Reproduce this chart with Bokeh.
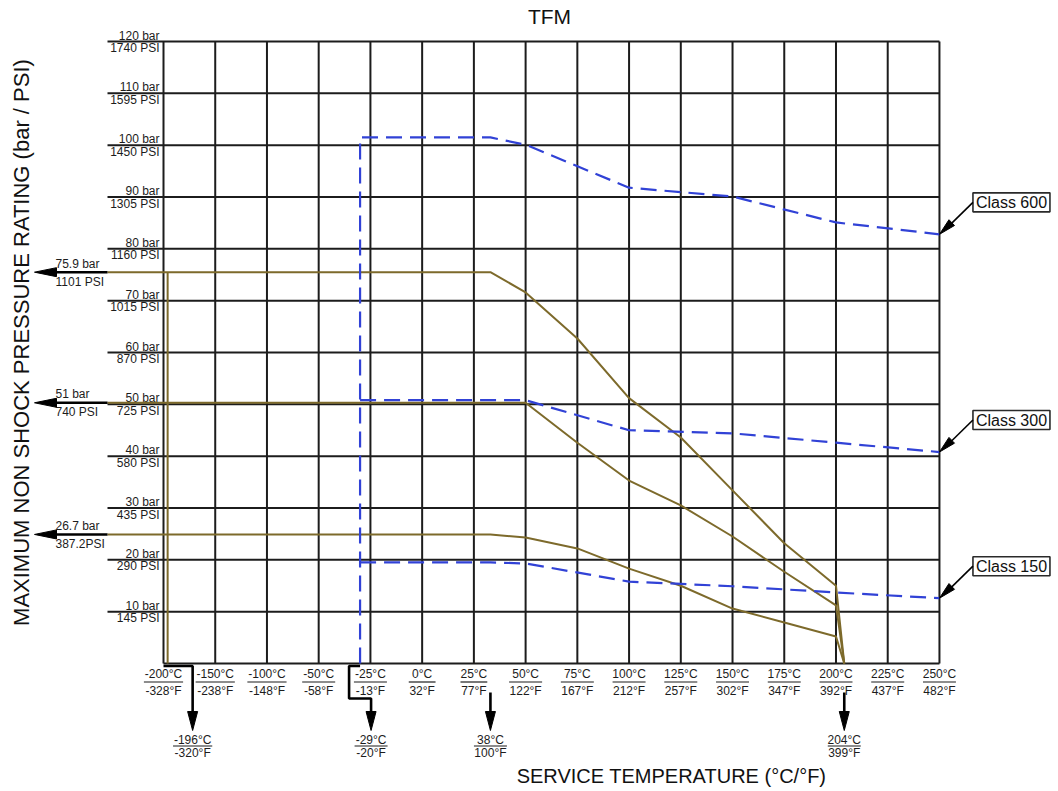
import numpy as np
from bokeh.plotting import figure
from bokeh.models import Range1d
from bokeh.core.properties import value
from bokeh.embed import file_html
from bokeh.resources import INLINE

# ---------------- data ----------------
temp_c_ticks = [-200, -150, -100, -50, -25, 0, 25, 50, 75, 100, 125, 150, 175, 200, 225, 250]
temp_f_ticks = [-328, -238, -148, -58, -13, 32, 77, 122, 167, 212, 257, 302, 347, 392, 437, 482]
bar_ticks = [10, 20, 30, 40, 50, 60, 70, 80, 90, 100, 110, 120]
psi_ticks = [145, 290, 435, 580, 725, 870, 1015, 1160, 1305, 1450, 1595, 1740]

# TFM seat limits (gold lines), bar
seat_high_t = [-196, 33, 50, 75, 100, 125, 150, 175, 200, 204]
seat_high_p = [75.5, 75.5, 71.6, 62.7, 51.2, 43.6, 33.4, 23.2, 15.0, 0]
seat_mid_t = [-196, 50, 75, 100, 125, 150, 175, 200, 204]
seat_mid_p = [50.3, 50.3, 42.6, 35.3, 30.5, 24.5, 17.7, 11.2, 0]
seat_low_t = [-196, 33, 50, 75, 100, 125, 150, 175, 200, 204]
seat_low_p = [24.9, 24.9, 24.3, 22.2, 18.3, 15.0, 10.6, 7.9, 5.2, 0]

# body pressure classes (blue dashed), bar
class_names = ["Class 600", "Class 300", "Class 150"]
class600_t = [-30, 33, 50, 100, 150, 200, 250]
class600_p = [101.5, 101.5, 100.1, 91.8, 90.1, 85.1, 82.8]
class300_t = [-30, 50, 100, 150, 200, 250]
class300_p = [50.8, 50.8, 45.0, 44.4, 42.6, 40.8]
class150_t = [-30, 33, 50, 100, 150, 200, 250]
class150_p = [19.5, 19.5, 19.3, 15.8, 14.9, 13.7, 12.6]

# marked seat levels (left arrows)
level_bar_txt = ["75.9 bar", "51 bar", "26.7 bar"]
level_psi_txt = ["1101 PSI", "740 PSI", "387.2PSI"]
# marked temperatures (bottom arrows)
mark_t = [-196, -30, 33, 204]
mark_c_txt = ["-196°C", "-29°C", "38°C", "204°C"]
mark_f_txt = ["-320°F", "-20°F", "100°F", "399°F"]

# ---------------- geometry ----------------
W, H = 1058, 791
X0, DX = 163.0, 51.73     # px of first tick, px per tick step
Y0, DY = 663.0, 5.183     # px of 0 bar, px per bar
idx = np.arange(len(temp_c_ticks))
FONT = value("Liberation Sans")
INK = "#1c1c1c"
GOLD = "#7d6a2b"
BLUE = "#3142d6"


def tx(t):
    return np.interp(t, temp_c_ticks, idx)


def hx(px):
    return (np.asarray(px, dtype=float) - X0) / DX


def vy(py):
    return (Y0 - np.asarray(py, dtype=float)) / DY


def xpx(x):
    return X0 + x * DX


def ypx(y):
    return Y0 - y * DY


p = figure(width=W, height=H, x_range=Range1d(float(hx(0)), float(hx(W))),
           y_range=Range1d(float(vy(H)), float(vy(0))),
           output_backend="svg", toolbar_location=None, min_border=0,
           x_axis_location=None, y_axis_location=None, outline_line_color=None,
           background_fill_color="white", border_fill_color="white")
p.grid.visible = False

# grid
p.segment(x0=idx, y0=[0] * len(idx), x1=idx, y1=[120] * len(idx), line_color=INK, line_width=2)
p.segment(x0=[float(hx(107))] * len(bar_ticks), y0=bar_ticks, x1=[idx[-1]] * len(bar_ticks), y1=bar_ticks,
          line_color=INK, line_width=2)
p.segment(x0=[0], y0=[0], x1=[idx[-1]], y1=[0], line_color=INK, line_width=2)

# y tick labels
p.text(x=[float(hx(159))] * len(bar_ticks), y=[float(vy(ypx(b) - 6)) for b in bar_ticks],
       text=[f"{b} bar" for b in bar_ticks], text_font=FONT, text_font_size="12px",
       text_align="right", text_baseline="middle", text_color=INK)
p.text(x=[float(hx(159))] * len(bar_ticks), y=[float(vy(ypx(b) + 6.5)) for b in bar_ticks],
       text=[f"{s} PSI" for s in psi_ticks], text_font=FONT, text_font_size="12px",
       text_align="right", text_baseline="middle", text_color=INK)

# x tick labels with separating rule
hw = [(max(len(f"{c}°C"), len(f"{f}°F")) * 6.2 + 2) / 2 for c, f in zip(temp_c_ticks, temp_f_ticks)]
p.text(x=idx, y=[float(vy(673))] * len(idx), text=[f"{c}°C" for c in temp_c_ticks], text_font=FONT,
       text_font_size="12px", text_align="center", text_baseline="middle", text_color=INK)
p.text(x=idx, y=[float(vy(690))] * len(idx), text=[f"{f}°F" for f in temp_f_ticks], text_font=FONT,
       text_font_size="12px", text_align="center", text_baseline="middle", text_color=INK)
p.segment(x0=[i - h / DX for i, h in zip(idx, hw)], y0=[float(vy(681.5))] * len(idx),
          x1=[i + h / DX for i, h in zip(idx, hw)], y1=[float(vy(681.5))] * len(idx),
          line_color=INK, line_width=1.2)

# ---------------- seat (gold) lines ----------------
x196 = float(tx(-196))
p.line([x196, x196], [0, seat_high_p[0]], line_color=GOLD, line_width=2)
for t_, p_ in [(seat_high_t, seat_high_p), (seat_mid_t, seat_mid_p), (seat_low_t, seat_low_p)]:
    p.line([float(hx(107))] + list(tx(t_)), [p_[0]] + p_, line_color=GOLD, line_width=2)

# ---------------- class (blue dashed) lines ----------------
x29 = float(tx(-30))
p.line([x29] + list(tx(class600_t)), [0] + class600_p, line_color=BLUE, line_width=2.2, line_dash="16 8")
p.line(tx(class300_t), class300_p, line_color=BLUE, line_width=2.2, line_dash="16 8")
p.line(tx(class150_t), class150_p, line_color=BLUE, line_width=2.2, line_dash="16 8")

heads_x, heads_y = [], []


def head(tip, back, width):
    (tX, tY), (bX, bY) = tip, back
    ux, uy = tX - bX, tY - bY
    L = np.hypot(ux, uy)
    nx, ny = -uy / L, ux / L
    pts = [(tX, tY), (bX + nx * width / 2, bY + ny * width / 2), (bX - nx * width / 2, bY - ny * width / 2)]
    heads_x.append([float(hx(a)) for a, _ in pts])
    heads_y.append([float(vy(b)) for _, b in pts])


# left arrows for seat levels
for lev, tb, tp in zip([seat_high_p[0], seat_mid_p[0], seat_low_p[0]], level_bar_txt, level_psi_txt):
    ly = ypx(lev)
    p.line([float(hx(107)), float(hx(52))], [lev, lev], line_color="black", line_width=2.5)
    head((34, ly), (56, ly), 9)
    p.text(x=[float(hx(55))], y=[float(vy(ly - 8.5))], text=[tb], text_font=FONT, text_font_size="12px",
           text_align="left", text_baseline="middle", text_color=INK)
    p.text(x=[float(hx(55))], y=[float(vy(ly + 9.5))], text=[tp], text_font=FONT, text_font_size="12px",
           text_align="left", text_baseline="middle", text_color=INK)

# right callouts
for name, tt, pp in zip(class_names, [class600_t, class300_t, class150_t], [class600_p, class300_p, class150_p]):
    ex, ey = xpx(float(tx(tt[-1]))), ypx(pp[-1])
    bx, by = ex + 72, ey - 32
    p.rect(x=[float(hx(bx))], y=[float(vy(by))], width=77, height=19, width_units="screen",
           height_units="screen", fill_color="white", line_color="#2a2a2a", line_width=1.6)
    p.text(x=[float(hx(bx))], y=[float(vy(by))], text=[name], text_font=FONT, text_font_size="16px",
           text_align="center", text_baseline="middle", text_color="#111111")
    sx, sy = bx - 38.5, by
    p.line([float(hx(sx)), float(hx(ex + 8))], [float(vy(sy)), float(vy(ey - 7))], line_color="black",
           line_width=1.6)
    u = np.array([sx - ex, sy - ey]); u = u / np.hypot(*u)
    head((ex, ey), (ex + 17 * u[0], ey + 17 * u[1]), 8)

# bottom temperature marks
for t_, ct, ft in zip(mark_t, mark_c_txt, mark_f_txt):
    mx = xpx(float(tx(t_)))
    if t_ == mark_t[0]:
        ax = mx + 25
        path = [(X0, 665.5), (ax, 665.5), (ax, 714)]
    elif t_ == mark_t[1]:
        ax = mx + 11
        path = [(mx, 665.5), (mx - 11, 665.5), (mx - 11, 698), (ax, 698), (ax, 714)]
    else:
        ax = mx
        path = [(ax, 692), (ax, 714)]
    p.line([float(hx(a)) for a, _ in path], [float(vy(b)) for _, b in path], line_color="black",
           line_width=2.6)
    head((ax, 730), (ax, 711), 10)
    p.text(x=[float(hx(ax))], y=[float(vy(739))], text=[ct], text_font=FONT, text_font_size="12px",
           text_align="center", text_baseline="middle", text_color=INK)
    p.text(x=[float(hx(ax))], y=[float(vy(752))], text=[ft], text_font=FONT, text_font_size="12px",
           text_align="center", text_baseline="middle", text_color=INK)
    h2 = max(len(ct), len(ft)) * 6.2 / 2 + 1
    p.line([float(hx(ax - h2)), float(hx(ax + h2))], [float(vy(745.5))] * 2, line_color=INK, line_width=1.2)

p.patches(heads_x, heads_y, fill_color="black", line_color="black", line_width=1)

# titles
p.text(x=[float(hx(549))], y=[float(vy(16))], text=["TFM"], text_font=FONT, text_font_size="21px",
       text_align="center", text_baseline="middle", text_color="#111111")
p.text(x=[float(hx(21))], y=[float(vy(339))], text=["MAXIMUM NON SHOCK PRESSURE RATING  (bar / PSI)"],
       angle=np.pi / 2, text_font=FONT, text_font_size="22px", text_align="center", text_baseline="middle",
       text_color="#111111")
p.text(x=[float(hx(671))], y=[float(vy(775))], text=["SERVICE TEMPERATURE (°C/°F)"], text_font=FONT,
       text_font_size="20px", text_align="center", text_baseline="middle", text_color="#111111")

open("out.html", "w").write(file_html(p, INLINE))
